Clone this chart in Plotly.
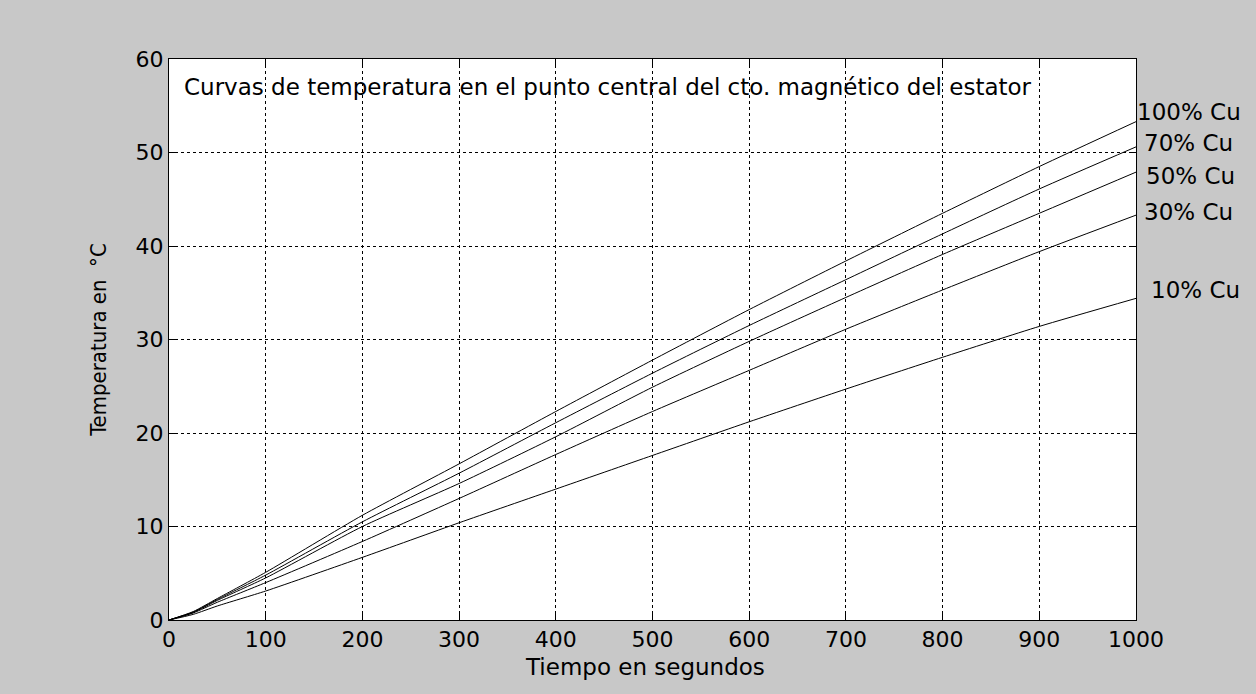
import plotly.graph_objects as go

# Tiempo (s) and temperature (°C) at the stator magnetic circuit centre
tiempo = [0, 25, 50, 100, 200, 300, 400, 500, 600, 700, 800, 900, 1000]

temp_100 = [0, 0.9, 2.3, 5.1, 11.2, 16.7, 22.3, 27.8, 33.2, 38.4, 43.5, 48.5, 53.3]
temp_70 = [0, 0.85, 2.2, 4.8, 10.5, 15.7, 21.1, 26.4, 31.5, 36.4, 41.3, 46.1, 50.6]
temp_50 = [0, 0.8, 2.1, 4.5, 10.0, 14.6, 19.6, 24.9, 29.8, 34.5, 39.1, 43.5, 47.9]
temp_30 = [0, 0.75, 1.9, 4.0, 8.4, 13.0, 17.7, 22.3, 26.7, 31.1, 35.3, 39.4, 43.3]
temp_10 = [0, 0.6, 1.5, 3.1, 6.7, 10.4, 14.0, 17.6, 21.2, 24.7, 28.1, 31.4, 34.4]

series_names = ["100% Cu", "70% Cu", "50% Cu", "30% Cu", "10% Cu"]
series_values = [temp_100, temp_70, temp_50, temp_30, temp_10]
label_y = [54.3, 51.0, 47.5, 43.6, 35.3]
label_shift = [-1, 6, 8, 6, 13]

x_ticks = [0, 100, 200, 300, 400, 500, 600, 700, 800, 900, 1000]
y_ticks = [0, 10, 20, 30, 40, 50, 60]

FONT = "DejaVu Sans, Arial, sans-serif"
NARROW = "Liberation Sans Narrow, DejaVu Sans Condensed, Arial Narrow, sans-serif"

fig = go.Figure()
for name, vals in zip(series_names, series_values):
    fig.add_trace(go.Scatter(x=tiempo, y=vals, mode="lines", name=name,
                             line=dict(color="black", width=1, shape="spline", smoothing=0.6),
                             showlegend=False, hoverinfo="x+y"))

# curve labels just outside the right edge of the axes
for name, yv, sh in zip(series_names, label_y, label_shift):
    fig.add_annotation(text=name, xref="paper", x=1, yref="y", y=yv,
                       xanchor="left", yanchor="middle", xshift=sh, showarrow=False,
                       font=dict(family=FONT, size=23, color="black"))

fig.add_annotation(text="Curvas de temperatura en el punto central del cto. magnético del estator",
                   xref="x", x=13, yref="y", y=57.0, xanchor="left", yanchor="middle",
                   showarrow=False, font=dict(family=FONT, size=23, color="black"))

# x axis title
fig.add_annotation(text="Tiempo en segundos", xref="paper", x=0.492, yref="paper", y=0,
                   xanchor="center", yanchor="middle", yshift=-47, showarrow=False,
                   font=dict(family=FONT, size=23, color="black"))

axis_common = dict(showline=True, linecolor="black", linewidth=1, mirror="ticks",
                   ticks="inside", ticklen=6, tickcolor="black",
                   showgrid=True, gridcolor="black", gridwidth=1, griddash="3px,3px",
                   zeroline=False, tickfont=dict(family=FONT, size=22, color="black"))

fig.update_xaxes(range=[0, 1000], tickvals=x_ticks, ticktext=[str(v) for v in x_ticks],
                 **axis_common)
fig.update_yaxes(range=[0, 60], tickvals=y_ticks, ticktext=[str(v) for v in y_ticks],
                 title=dict(text="Temperatura en  °C", font=dict(family=NARROW, size=22, color="black"),
                            standoff=22),
                 **axis_common)

fig.update_layout(width=1256, height=694, paper_bgcolor="#c8c8c8", plot_bgcolor="white",
                  margin=dict(l=169, r=120, t=59, b=74), showlegend=False)

fig.write_html("out.html")
